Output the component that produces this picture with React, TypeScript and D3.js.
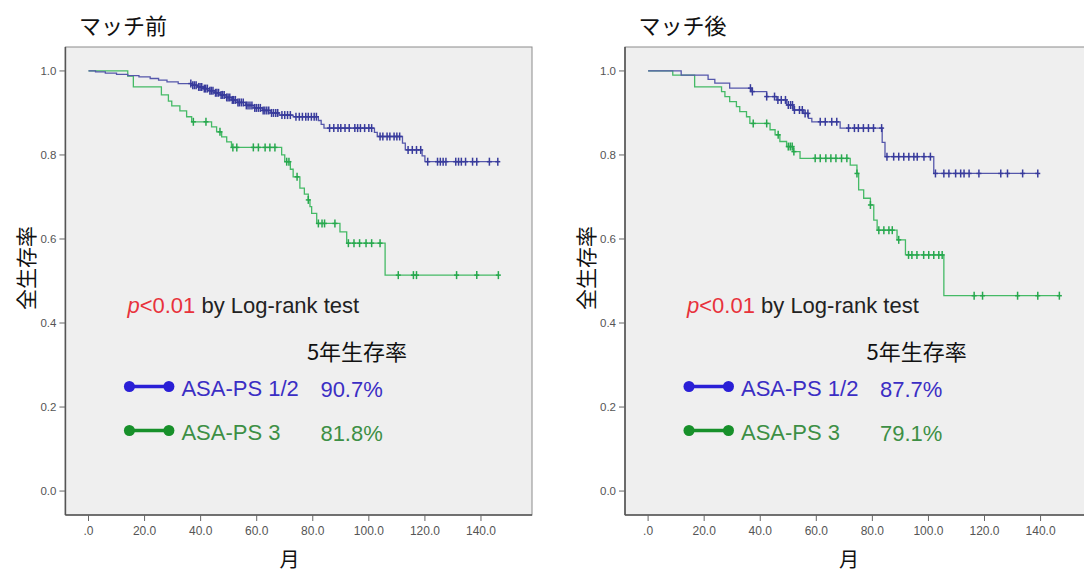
import React from "react";
import * as d3 from "d3";

type Step = [number, number];

// ---------- Data (months, survival) ----------
const xTicks = [0, 20, 40, 60, 80, 100, 120, 140];
const xTickLabels = [".0", "20.0", "40.0", "60.0", "80.0", "100.0", "120.0", "140.0"];
const yTicks = [0, 0.2, 0.4, 0.6, 0.8, 1.0];
const yTickLabels = ["0.0", "0.2", "0.4", "0.6", "0.8", "1.0"];

const panelTitles = ["マッチ前", "マッチ後"];
const groupNames = ["ASA-PS 1/2", "ASA-PS 3"];
const fiveYearRates = [
  ["90.7%", "81.8%"],
  ["87.7%", "79.1%"],
];

// Before matching: ASA-PS 1/2
const preBlueSteps: Step[] = [
  [2.5, 0.998], [6, 0.995], [10, 0.992], [14, 0.989], [18, 0.986], [22, 0.982],
  [25, 0.978], [28, 0.974], [32, 0.970], [37, 0.966], [39, 0.962], [41, 0.958],
  [43, 0.953], [45, 0.948], [47, 0.943], [49, 0.937], [51, 0.931], [53, 0.925],
  [56, 0.918], [59, 0.912], [62, 0.906], [65, 0.900], [68, 0.895], [73, 0.891],
  [82, 0.882], [83, 0.873], [84, 0.864], [102, 0.854], [103, 0.844], [112, 0.828],
  [113, 0.812], [119, 0.798], [120, 0.784],
];
const preBlueCensor = [
  36.5, 37.2, 37.8, 38.4, 39.3, 39.8, 40.4, 41.3, 41.8, 42.4, 43.3, 43.8, 44.4,
  45.3, 45.8, 46.4, 47.3, 47.8, 48.4, 49.3, 49.8, 50.4, 51.3, 51.8, 52.4, 53.3,
  53.8, 54.5, 55.2, 56.3, 56.9, 57.6, 58.3, 59.3, 59.9, 60.6, 61.3, 62.3, 62.9,
  63.6, 64.3, 65.3, 66, 66.8, 67.5, 69, 70, 71, 72, 74, 75.2, 76.3, 77.5, 78.4,
  79.5, 80.5, 81.3, 86, 87.5, 89, 90, 91.5, 93, 95, 96, 97, 98.5, 100, 101,
  104, 105, 106.5, 107.5, 109, 110, 111, 114, 115.5, 117, 118.5, 121, 124.5,
  125.5, 126.5, 127.5, 131, 132, 133, 134.5, 137, 138.5, 143, 146,
];

// Before matching: ASA-PS 3
const preGreenSteps: Step[] = [
  [14, 0.988], [16, 0.962], [26, 0.943], [28.5, 0.928], [29.7, 0.917], [32.6, 0.905],
  [35, 0.891], [36.8, 0.879], [43.9, 0.867], [45.7, 0.855], [47.5, 0.843], [49.3, 0.831],
  [51, 0.818], [68.9, 0.800], [70, 0.784], [72, 0.766], [73, 0.748], [75.4, 0.721],
  [77, 0.707], [78.4, 0.693], [79, 0.677], [79.6, 0.661], [81.4, 0.637], [89.7, 0.617],
  [92.1, 0.590], [105.8, 0.514],
];
const preGreenCensor = [
  37.4, 41.9, 46.9, 51.5, 52.9, 58.8, 60.6, 63, 64.7, 66.5, 70.7, 71.5, 74.4,
  78.4, 82, 83.3, 84.2, 87.9, 92.7, 94.7, 96.7, 99, 101, 104, 110.5, 115.9,
  117, 131.3, 138.5, 146.2,
];

// After matching: ASA-PS 1/2
const postBlueSteps: Step[] = [
  [11.8, 0.99], [21.4, 0.980], [23.8, 0.971], [29.1, 0.959], [36.9, 0.951],
  [42.3, 0.939], [45.9, 0.931], [49.4, 0.919], [51.8, 0.907], [55.4, 0.899],
  [57.2, 0.887], [58.4, 0.879], [68.5, 0.864], [83.5, 0.830], [84.5, 0.796],
  [101.9, 0.756],
];
const postBlueCensor = [
  36.5, 37.2, 42.3, 45.1, 46.3, 47.5, 49, 50, 50.8, 51.5, 52.2, 54, 55, 56, 57,
  61.4, 63.2, 65.5, 67.3, 71.5, 73.6, 75, 76.8, 78.6, 80.4, 83.3, 85.2, 87.6,
  89.4, 91.2, 93, 94.8, 96, 98.4, 100.7, 102.5, 105.5, 107.3, 109.7, 111.5,
  112.7, 114.5, 118, 125.8, 128.2, 133.6, 139,
];

// After matching: ASA-PS 3
const postGreenSteps: Step[] = [
  [8.8, 0.99], [16.6, 0.962], [26.2, 0.951], [27.4, 0.939], [29.1, 0.927],
  [31.5, 0.915], [32.7, 0.903], [35.1, 0.891], [36.3, 0.875], [43.5, 0.860],
  [45.3, 0.848], [47, 0.832], [49.4, 0.820], [51.8, 0.808], [54.2, 0.792],
  [72.1, 0.776], [74.5, 0.756], [75.1, 0.717], [76.9, 0.697], [79.3, 0.681],
  [80.5, 0.645], [81.7, 0.621], [88.8, 0.598], [91.8, 0.562], [105.5, 0.465],
];
const postGreenCensor = [
  37.5, 42.3, 46.4, 50, 50.7, 51.4, 52, 59.6, 61.4, 63.4, 65.2, 67, 69, 70.9,
  74.5, 79.3, 82.3, 84.1, 85.9, 87.1, 89.4, 92.9, 94.1, 95.9, 98.3, 100.1,
  101.9, 103.7, 104.9, 116.3, 119.3, 131.8, 139, 146.7,
];

const panelsSteps = [
  [preBlueSteps, preGreenSteps],
  [postBlueSteps, postGreenSteps],
];
const panelsCensor = [
  [preBlueCensor, preGreenCensor],
  [postBlueCensor, postGreenCensor],
];

// ---------- Styling ----------
const FONT_CJK = '"Noto Sans CJK JP", "Noto Sans", sans-serif';
const FONT_LAT = '"Liberation Sans", Arial, sans-serif';
const curveColors = ["#5557ab", "#45ba66"];
const markColors = ["#383b9c", "#27a84e"];
const legendDotColors = ["#2a1fd6", "#17902a"];
const legendTextColors = ["#3b2ec4", "#3d8f45"];

const W = 1084;
const H = 574;
const panelLefts = [65.4, 625];
const PANEL_TOP = 47;
const PANEL_W = 466.6;
const PANEL_H = 468;

function survAt(steps: Step[], t: number): number {
  let s = 1;
  for (const [tt, v] of steps) {
    if (tt <= t) s = v;
    else break;
  }
  return s;
}

function Panel({ idx }: { idx: number }) {
  const left = panelLefts[idx];
  const x = d3.scaleLinear().domain([-8.24, 158.2]).range([left, left + PANEL_W]);
  const y = d3.scaleLinear().domain([-0.057, 1.057]).range([PANEL_TOP + PANEL_H, PANEL_TOP]);
  const bottom = PANEL_TOP + PANEL_H;
  const line = d3
    .line<Step>()
    .x((d) => x(d[0]))
    .y((d) => y(d[1]))
    .curve(d3.curveStepAfter);

  const steps = panelsSteps[idx];
  const censors = panelsCensor[idx];

  return (
    <g>
      <text x={left + 13.6} y={34} fontFamily={FONT_CJK} fontSize={22} fill="#111">
        {panelTitles[idx]}
      </text>
      <rect x={left} y={PANEL_TOP} width={PANEL_W} height={PANEL_H} fill="#efefef" stroke="#8c8c8c" strokeWidth={1} />
      <line x1={left} x2={left} y1={PANEL_TOP} y2={bottom} stroke="#555" strokeWidth={1.6} />
      <line x1={left} x2={left + PANEL_W} y1={bottom} y2={bottom} stroke="#555" strokeWidth={1.6} />
      {yTicks.map((v, i) => (
        <g key={"y" + i}>
          <line x1={left - 6} x2={left} y1={y(v)} y2={y(v)} stroke="#666" strokeWidth={1} />
          <text x={left - 9} y={y(v) + 4} textAnchor="end" fontFamily={FONT_LAT} fontSize={11.5} fill="#555">
            {yTickLabels[i]}
          </text>
        </g>
      ))}
      {xTicks.map((v, i) => (
        <g key={"x" + i}>
          <line x1={x(v)} x2={x(v)} y1={bottom} y2={bottom + 6} stroke="#666" strokeWidth={1} />
          <text x={x(v)} y={535} textAnchor="middle" fontFamily={FONT_LAT} fontSize={12} fill="#555">
            {xTickLabels[i]}
          </text>
        </g>
      ))}
      <text
        transform={`translate(${left - 40.4},268) rotate(-90)`}
        textAnchor="middle"
        dominantBaseline="central"
        fontFamily={FONT_CJK}
        fontSize={21}
        fill="#111"
      >
        全生存率
      </text>
      <text x={left + 224} y={567} textAnchor="middle" fontFamily={FONT_CJK} fontSize={20} fill="#111">
        月
      </text>

      {[1, 0].map((g) => {
        const st = steps[g];
        const cs = censors[g];
        const end = Math.max(cs[cs.length - 1], st[st.length - 1][0]);
        const pts: Step[] = [[0, 1], ...st, [end, st[st.length - 1][1]]];
        return (
          <g key={"c" + g}>
            <path d={line(pts) || ""} fill="none" stroke={curveColors[g]} strokeWidth={1.3} />
            {cs.map((t, k) => {
              const cx = x(t);
              const cy = y(survAt(st, t));
              return (
                <g key={k} stroke={markColors[g]} strokeWidth={1.5}>
                  <line x1={cx} x2={cx} y1={cy - 4} y2={cy + 4} />
                  <line x1={cx - 2.5} x2={cx + 2.5} y1={cy} y2={cy} />
                </g>
              );
            })}
          </g>
        );
      })}

      <text x={left + 62} y={312.5} fontFamily={FONT_LAT} fontSize={22} fill="#222">
        <tspan fill="#e8323c" fontStyle="italic">p</tspan>
        <tspan fill="#e8323c">{"<0.01"}</tspan>
        <tspan>{" by Log-rank test"}</tspan>
      </text>
      <text x={left + 241.5} y={360} fontFamily={FONT_CJK} fontSize={22} fill="#111">
        5年生存率
      </text>
      {[0, 1].map((g) => {
        const ly = g === 0 ? 386.5 : 430.5;
        return (
          <g key={"l" + g}>
            <line x1={left + 64} x2={left + 103.5} y1={ly} y2={ly} stroke={legendDotColors[g]} strokeWidth={3.5} />
            <circle cx={left + 64} cy={ly} r={5.5} fill={legendDotColors[g]} />
            <circle cx={left + 103.5} cy={ly} r={5.5} fill={legendDotColors[g]} />
            <text x={left + 116} y={ly + 9} fontFamily={FONT_LAT} fontSize={22} fill={legendTextColors[g]}>
              {groupNames[g]}
            </text>
            <text x={left + 255} y={ly + 10.5} fontFamily={FONT_LAT} fontSize={22} fill={legendTextColors[g]}>
              {fiveYearRates[idx][g]}
            </text>
          </g>
        );
      })}
    </g>
  );
}

export default function App() {
  return (
    <svg
      width={W}
      height={H}
      viewBox={`0 0 ${W} ${H}`}
      style={{ position: "absolute", left: 0, top: 0, background: "#fff" }}
    >
      <rect x={0} y={0} width={W} height={H} fill="#fff" />
      <Panel idx={0} />
      <Panel idx={1} />
    </svg>
  );
}
